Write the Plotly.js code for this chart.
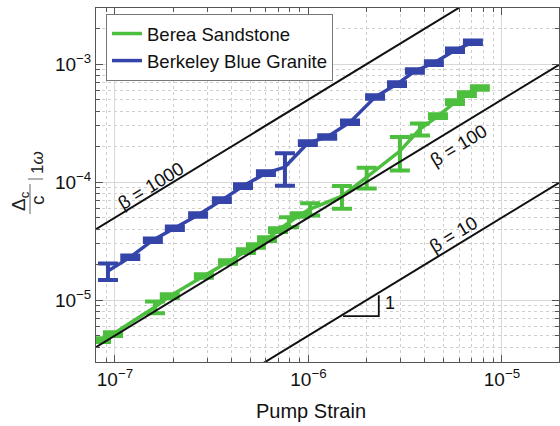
<!DOCTYPE html>
<html><head><meta charset="utf-8">
<script src="https://cdn.plot.ly/plotly-3.0.1.min.js"></script>
<style>html,body{margin:0;padding:0;background:#fff}</style>
</head><body><div id="chart" style="width:560px;height:426px"></div>
<script>
// ---- data ----
const seriesNames = ['Berea Sandstone', 'Berkeley Blue Granite'];

const bereaStrain = [8.47e-8, 9.77e-8, 1.61e-7, 1.92e-7, 2.88e-7, 3.84e-7, 4.75e-7, 5.35e-7, 6.11e-7, 6.96e-7, 7.93e-7, 9.03e-7, 1.02e-6, 1.49e-6, 2.00e-6, 2.97e-6, 3.77e-6, 4.67e-6, 5.72e-6, 6.59e-6, 7.69e-6];
const bereaValue  = [4.58e-6, 5.15e-6, 8.72e-6, 1.08e-5, 1.60e-5, 2.10e-5, 2.60e-5, 2.87e-5, 3.29e-5, 3.92e-5, 4.58e-5, 5.25e-5, 5.90e-5, 7.60e-5, 1.10e-4, 1.83e-4, 2.81e-4, 3.62e-4, 4.76e-4, 5.57e-4, 6.27e-4];
const bereaErr    = [1.6e-7, 1.8e-7, 1.0e-6, 3.8e-7, 5.6e-7, 7.4e-7, 9.0e-7, 1.0e-6, 1.2e-6, 1.4e-6, 4.5e-6, 1.8e-6, 7.0e-6, 1.65e-5, 2.2e-5, 5.8e-5, 3.3e-5, 1.3e-5, 1.7e-5, 2.0e-5, 2.2e-5];

const graniteStrain = [9.2e-8, 1.20e-7, 1.57e-7, 2.04e-7, 2.69e-7, 3.57e-7, 4.59e-7, 6.03e-7, 7.56e-7, 9.93e-7, 1.25e-6, 1.64e-6, 2.21e-6, 2.87e-6, 3.55e-6, 4.45e-6, 5.72e-6, 7.08e-6];
const graniteValue  = [1.76e-5, 2.31e-5, 3.22e-5, 4.07e-5, 5.25e-5, 7.03e-5, 9.24e-5, 1.19e-4, 1.34e-4, 2.14e-4, 2.41e-4, 3.22e-4, 5.25e-4, 6.77e-4, 8.73e-4, 1.02e-3, 1.31e-3, 1.53e-3];
const graniteErr    = [2.8e-6, 8.0e-7, 1.1e-6, 1.4e-6, 1.8e-6, 2.5e-6, 3.2e-6, 4.2e-6, 4.1e-5, 7.5e-6, 8.4e-6, 1.1e-5, 1.8e-5, 2.4e-5, 3.1e-5, 3.6e-5, 4.6e-5, 5.4e-5];

const betaValues = [10, 100, 1000];
const betaLabels = ['β = 10', 'β = 100', 'β = 1000'];
const betaLabelX = [-5.253, -5.227, -6.814];   // log10 positions of the labels
const betaLabelY = [-4.441, -3.686, -4.025];

const slopeTriX = [1.51e-6, 2.31e-6, 2.31e-6];
const slopeTriY = [7.32e-6, 7.32e-6, 1.10e-5];
const slopeLabel = '1';

const xTickVals = [1e-7, 1e-6, 1e-5];
const xTickText = ['10<sup>−7</sup>', '10<sup>−6</sup>', '10<sup>−5</sup>'];
const yTickVals = [1e-5, 1e-4, 1e-3];
const yTickText = ['10<sup>−5</sup>', '10<sup>−4</sup>', '10<sup>−3</sup>'];
const xTitle = 'Pump Strain';

// ---- layout helpers ----
const W = 560, H = 426, L = 96, R = 1, T = 8, B = 64;
const PW = W - L - R, PH = H - T - B;
const px = sx => (sx - L) / PW;
const py = sy => (H - B - sy) / PH;
const xRange = [-7.098, -4.705];
const yRange = [-5.525, -2.525];

function minorVals(lo, hi) {
  const v = [];
  for (let e = lo; e <= hi; e++) for (let m = 2; m <= 9; m++) v.push(m * Math.pow(10, e));
  return v;
}

const green = '#4DBF3F', blue = '#3444A8';
const font = 'Liberation Sans, Arial, Helvetica, sans-serif';

const traces = [
  { x: bereaStrain, y: bereaValue, name: seriesNames[0], mode: 'lines', type: 'scatter',
    line: { color: green, width: 3.5 },
    error_y: { type: 'data', array: bereaErr, visible: true, color: green, thickness: 4, width: 10 } },
  { x: graniteStrain, y: graniteValue, name: seriesNames[1], mode: 'lines', type: 'scatter',
    line: { color: blue, width: 3.5 },
    error_y: { type: 'data', array: graniteErr, visible: true, color: blue, thickness: 4, width: 10 } }
];

const xEnds = [Math.pow(10, xRange[0]), Math.pow(10, xRange[1])];
betaValues.forEach(b => {
  traces.push({ x: xEnds, y: xEnds.map(v => b / 2 * v), mode: 'lines', type: 'scatter',
    showlegend: false, hoverinfo: 'skip', line: { color: '#111', width: 2 } });
});
traces.push({ x: slopeTriX, y: slopeTriY, mode: 'lines', type: 'scatter', showlegend: false,
  hoverinfo: 'skip', line: { color: '#111', width: 1.8 } });

const C = { xanchor: 'center', yanchor: 'middle', showarrow: false };
const annotations = betaLabels.map((t, i) => Object.assign({
  x: betaLabelX[i], y: betaLabelY[i], xref: 'x', yref: 'y', text: t,
  textangle: -31.4, font: { family: font, size: 18.5, color: '#111' } }, C));
annotations.push(Object.assign({ x: -5.579, y: -5.025, xref: 'x', yref: 'y', text: slopeLabel,
  font: { family: font, size: 18, color: '#111' } }, C));
annotations.push(Object.assign({ x: px(310.5), y: py(411), xref: 'paper', yref: 'paper', text: xTitle,
  font: { family: font, size: 20, color: '#111' } }, C));
// y-axis title pieces (Δc / c | 1ω)
annotations.push(Object.assign({ x: px(20), y: py(201), xref: 'paper', yref: 'paper', text: 'Δ<sub>c</sub>',
  textangle: -90, font: { family: font, size: 19, color: '#222' } }, C));
annotations.push(Object.assign({ x: px(37), y: py(200), xref: 'paper', yref: 'paper', text: 'c',
  textangle: -90, font: { family: font, size: 19, color: '#222' } }, C));
annotations.push(Object.assign({ x: px(37), y: py(163), xref: 'paper', yref: 'paper', text: '1<i>ω</i>',
  textangle: -90, font: { family: font, size: 17, color: '#222' } }, C));

const shapes = [
  { type: 'line', xref: 'paper', yref: 'paper', x0: px(30), x1: px(30), y0: py(184), y1: py(214),
    line: { color: '#999', width: 1.5 } },
  { type: 'line', xref: 'paper', yref: 'paper', x0: px(28), x1: px(43), y0: py(179), y1: py(179),
    line: { color: '#999', width: 1.5 } }
];

const axisCommon = {
  type: 'log', showline: true, linecolor: '#555', linewidth: 1, mirror: 'ticks',
  ticks: 'inside', ticklen: 7, tickcolor: '#555', tickwidth: 1,
  showgrid: true, gridcolor: '#d8d8d8', gridwidth: 1, zeroline: false,
  tickfont: { family: font, size: 19, color: '#111' }, tickmode: 'array'
};

const layout = {
  width: W, height: H, margin: { l: L, r: R, t: T, b: B }, paper_bgcolor: '#fff', plot_bgcolor: '#fff',
  showlegend: true,
  legend: { x: px(106), y: py(14), xanchor: 'left', yanchor: 'top', bgcolor: '#fff',
    bordercolor: '#777', borderwidth: 1, font: { family: font, size: 18.5, color: '#111' },
    tracegroupgap: 0 },
  xaxis: Object.assign({}, axisCommon, { range: xRange, tickvals: xTickVals, ticktext: xTickText,
    minor: { tickmode: 'array', tickvals: minorVals(-8, -5), ticks: 'inside', ticklen: 4, tickcolor: '#555',
      showgrid: true, gridcolor: '#cfcfcf', griddash: 'dot', gridwidth: 1 } }),
  yaxis: Object.assign({}, axisCommon, { range: yRange, tickvals: yTickVals, ticktext: yTickText,
    minor: { tickmode: 'array', tickvals: minorVals(-6, -3), ticks: 'inside', ticklen: 4, tickcolor: '#555',
      showgrid: true, gridcolor: '#cfcfcf', griddash: 'dot', gridwidth: 1 } }),
  annotations: annotations, shapes: shapes
};

Plotly.newPlot('chart', traces, layout, { staticPlot: true, displayModeBar: false });
</script></body></html>
